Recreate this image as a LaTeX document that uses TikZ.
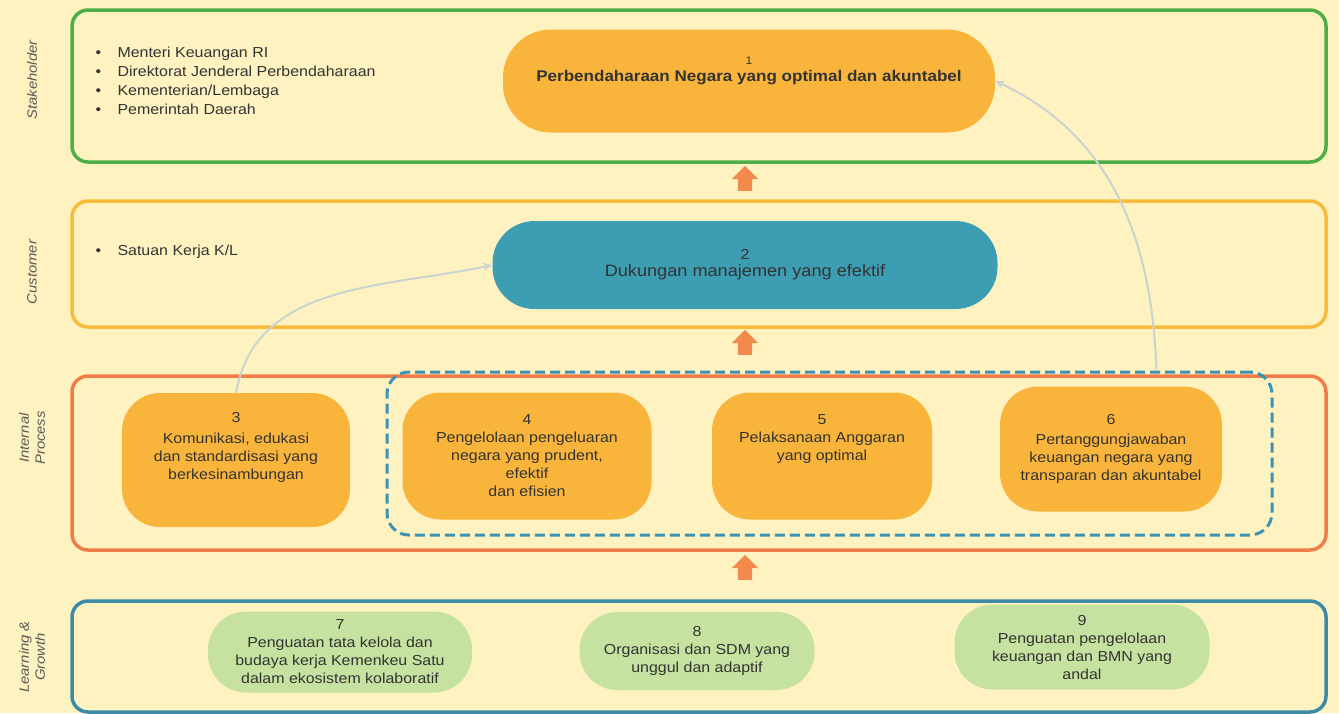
\documentclass[tikz,border=0pt]{standalone}
\usepackage{fontspec}
\setmainfont{Liberation Sans}[FakeStretch=1.1]
\usetikzlibrary{shapes.arrows,arrows.meta,calc}
\definecolor{bg}{HTML}{FEF3C0}
\definecolor{cgreen}{HTML}{4DAE45}
\definecolor{cyell}{HTML}{F8BC3A}
\definecolor{cred}{HTML}{F07C48}
\definecolor{cblue}{HTML}{3C8AA8}
\definecolor{corange}{HTML}{F9B43C}
\definecolor{cteal}{HTML}{3D9DB2}
\definecolor{clgreen}{HTML}{C6E2A0}
\definecolor{cdash}{HTML}{3A92B5}
\definecolor{carrow}{HTML}{F28A4E}
\definecolor{cconn}{HTML}{C9D4CF}
\definecolor{txt}{HTML}{333333}
\begin{document}
\begin{tikzpicture}[x=1pt,y=-1pt,
  panel/.style={line width=3.5pt,rounded corners=16pt},
  sidelbl/.style={rotate=90,font=\fontsize{13.5}{16}\selectfont\itshape,text=black!65,align=center},
  obj/.style={rounded corners=38pt,align=center,text=txt,inner sep=2pt,font=\fontsize{14.5}{18}\selectfont},
  orangeobj/.style={obj,fill=corange},
  greenobj/.style={obj,fill=clgreen},
  listtxt/.style={align=left,anchor=north west,text=txt,font=\fontsize{14.5}{19.3}\selectfont},
  uparrow/.style={single arrow,shape border rotate=90,fill=carrow,minimum height=25pt,minimum width=26pt,single arrow head extend=6pt,inner sep=7pt},
  conn/.style={draw=cconn,line width=2pt,-{Stealth[length=9pt,width=8pt]}},
  dashbox/.style={draw=cdash,line width=3pt,dash pattern=on 10pt off 5pt,rounded corners=22pt}
]
\useasboundingbox[fill=bg] (0,0) rectangle (1339,713);
% panels
\draw[panel,draw=cgreen] (72,10) rectangle (1326,162);
\draw[panel,draw=cyell] (72,201) rectangle (1326,327);
\draw[panel,draw=cred] (72,376) rectangle (1326,550);
\draw[panel,draw=cblue] (72,601) rectangle (1326,712);
% side labels
\node[sidelbl] (l1) at (32,80) {Stakeholder};
\node[sidelbl] (l2) at (32,272) {Customer};
\node[sidelbl] (l3) at (32,438) {Internal\\Process};
\node[sidelbl] (l4) at (32,657) {Learning \&\\Growth};
% lists
\node[listtxt] (s1) at (92,43) {\makebox[22pt][l]{\textbullet}Menteri Keuangan RI\\\makebox[22pt][l]{\textbullet}Direktorat Jenderal Perbendaharaan\\\makebox[22pt][l]{\textbullet}Kementerian/Lembaga\\\makebox[22pt][l]{\textbullet}Pemerintah Daerah};
\node[listtxt] (s2) at (92,241) {\makebox[22pt][l]{\textbullet}Satuan Kerja K/L};
% dashed group
\node[dashbox,minimum width=885pt,minimum height=163pt] (grp) at (829.5,453.5) {};
% objectives
\node[orangeobj,minimum width=492pt,minimum height=103pt,rounded corners=48pt] (n1) at (749,81) {{\fontsize{11}{13}\selectfont 1}\\[-1pt]{\fontsize{15.5}{19}\selectfont\bfseries Perbendaharaan Negara yang optimal dan akuntabel}\\[6pt]};
\node[obj,fill=cteal,minimum width=505pt,minimum height=88pt,rounded corners=42pt,font=\fontsize{16.5}{17}\selectfont] (n2) at (745,265) {{\fontsize{14.5}{17}\selectfont 2}\\Dukungan manajemen yang efektif};
\node[orangeobj,minimum width=228pt,minimum height=134pt] (n3) at (236,460) {3\\[3pt]Komunikasi, edukasi\\dan standardisasi yang\\berkesinambungan\\[10pt]};
\node[orangeobj,minimum width=249pt,minimum height=127pt] (n4) at (527,456) {4\\Pengelolaan pengeluaran\\negara yang prudent,\\efektif\\dan efisien};
\node[orangeobj,minimum width=220pt,minimum height=127pt] (n5) at (822,456) {5\\Pelaksanaan Anggaran\\yang optimal\\[18pt]};
\node[orangeobj,minimum width=222pt,minimum height=125pt] (n6) at (1111,449) {6\\[2pt]Pertanggungjawaban\\keuangan negara yang\\transparan dan akuntabel};
\node[greenobj,minimum width=264pt,minimum height=81pt] (n7) at (340,652) {7\\Penguatan tata kelola dan\\budaya kerja Kemenkeu Satu\\dalam ekosistem kolaboratif};
\node[greenobj,minimum width=235pt,minimum height=78pt] (n8) at (697,651) {8\\Organisasi dan SDM yang\\unggul dan adaptif};
\node[greenobj,minimum width=255pt,minimum height=85pt] (n9) at (1082,647) {9\\Penguatan pengelolaan\\keuangan dan BMN yang\\andal};
% block arrows
\node[uparrow] (u1) at (745,182) {};
\node[uparrow] (u2) at (745,346) {};
\node[uparrow] (u3) at (745,571) {};
% curved connectors
\coordinate (c6) at ($(grp.north)+(327,0)$);
\draw[conn] (n3.north) to[out=80,in=192] (n2.west);
\draw[conn] (c6) to[out=92,in=-25] (n1.east);
\end{tikzpicture}
\end{document}
